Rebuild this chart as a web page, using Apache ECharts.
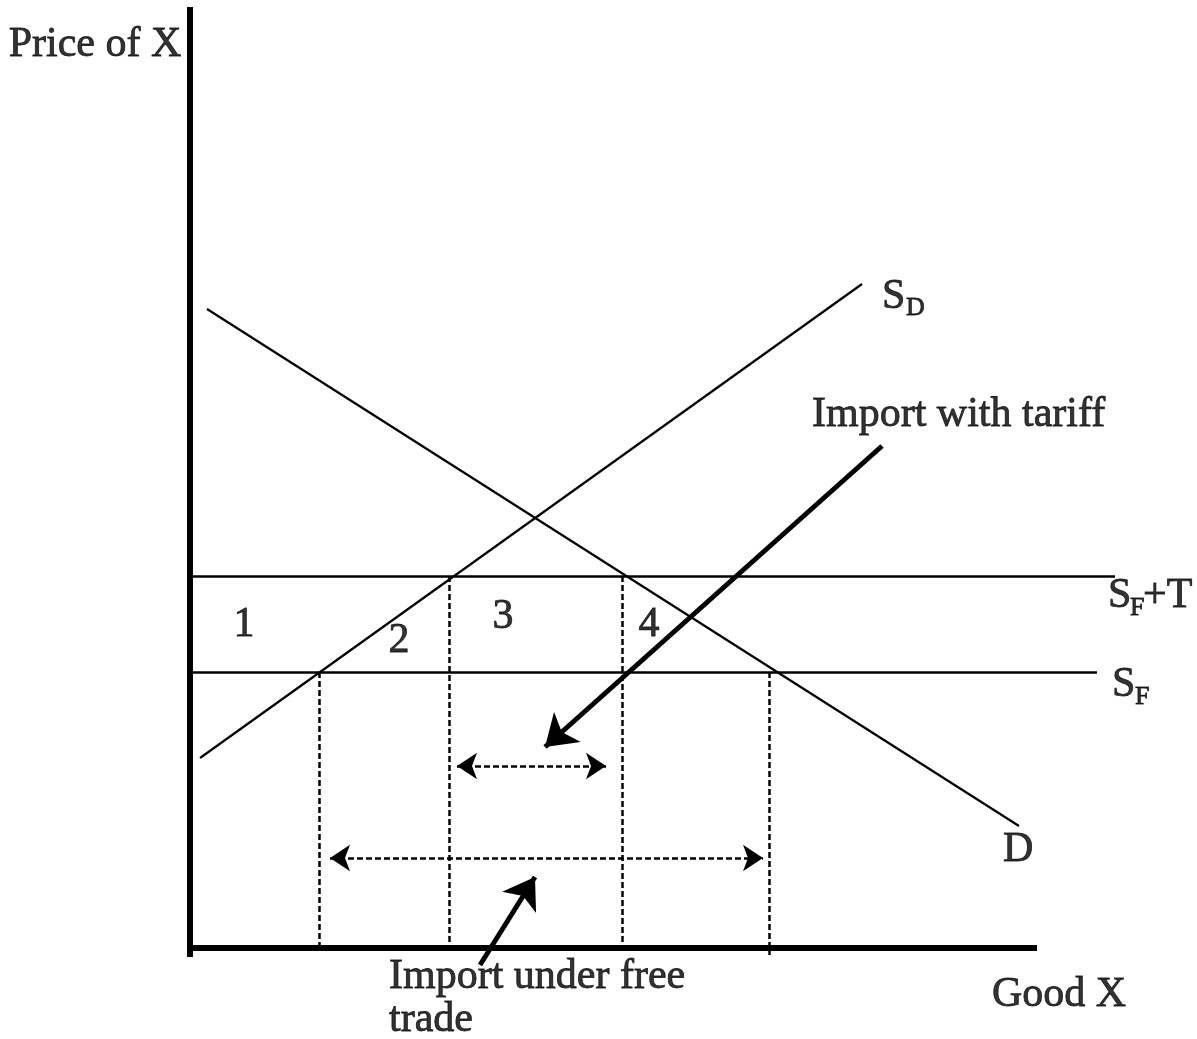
<!DOCTYPE html>
<html>
<head>
<meta charset="utf-8">
<style>
  html, body { margin: 0; padding: 0; background: #fff; }
  #chart { width: 1197px; height: 1039px; }
</style>
<script src="https://cdn.jsdelivr.net/npm/echarts@6/dist/echarts.min.js"></script>
</head>
<body>
<div id="chart"></div>
<script>
// ---- Data (quantity on x, price on y) ----
const domesticSupply = [[1.0, 18.9], [67.2, 66.3]];    // S_D
const demand = [[1.7, 63.8], [82.9, 12.1]];             // D
const priceFree = 27.5;                                  // S_F
const priceTariff = 37.1;                                // S_F + T
const freeLineEnd = 90.7;
const tariffLineEnd = 92.5;
const dashQuantities = [12.9, 25.9, 43.2, 57.9];
const dashTops = [27.5, 37.1, 37.1, 27.5];
const dashBottoms = [0, 0, -0.3, -0.8];
const tariffImport = [26.7, 41.6];   const tariffImportPrice = 18.1;
const freeImport = [14.0, 57.3];     const freeImportPrice = 8.9;
const arrowTariff = [[69.2, 50.1], [35.5, 20.0]];
const arrowFree = [[29.0, -1.8], [34.5, 7.0]];
const axisX = [[-0.3, -0.1], [84.7, -0.1]];
const axisY = [[0, -1.0], [0, 94.0]];
// main-size texts
const labels = [
  {name: 'Price of X', value: [-9.5, 90.2], align: 'center'},
  {name: 'S', value: [69.2, 65.0], align: 'left'},
  {name: 'Import with tariff', value: [62.2, 53.2], align: 'left'},
  {name: 'S', value: [91.8, 35.1], align: 'left'},
  {name: '+T', value: [95.3, 35.1], align: 'left'},
  {name: 'S', value: [92.2, 26.2], align: 'left'},
  {name: 'D', value: [81.3, 9.7], align: 'left'},
  {name: '1', value: [5.4, 32.2], align: 'center'},
  {name: '2', value: [20.9, 30.6], align: 'center'},
  {name: '3', value: [31.3, 33.0], align: 'center'},
  {name: '4', value: [45.9, 32.2], align: 'center'},
  {name: 'Import under free', value: [19.9, -3.0], align: 'left'},
  {name: 'trade', value: [19.9, -7.3], align: 'left'},
  {name: 'Good X', value: [80.2, -4.8], align: 'left'}
];
// subscripts
const subLabels = [
  {name: 'D', value: [71.6, 63.85]},
  {name: 'F', value: [94.0, 33.85]},
  {name: 'F', value: [94.5, 24.95]}
];

const FONT = 'Liberation Serif';
const FS = 42;
const SUB_FS = 26;
const chart = echarts.init(document.getElementById('chart'), null, {renderer: 'canvas'});

const dashData = dashQuantities.map((q, i) => ({coords: [[q, dashTops[i]], [q, dashBottoms[i]]]}));

function textSeries(items, size) {
  return {
    type: 'scatter', symbolSize: 0, silent: true, clip: false,
    data: items.map(l => ({
      name: l.name, value: l.value,
      label: {
        show: true, position: [0, 0], formatter: '{b}',
        align: l.align || 'left', verticalAlign: 'middle',
        fontFamily: FONT, fontSize: size, color: '#000',
        textBorderColor: '#000', textBorderWidth: 0.8
      }
    }))
  };
}

chart.setOption({
  animation: false,
  backgroundColor: '#fff',
  grid: {left: 0, right: 0, top: 0, bottom: 0},
  xAxis: {type: 'value', min: -19, max: 100.7, show: false},
  yAxis: {type: 'value', min: -9.2, max: 94.7, show: false},
  series: [
    { // axes
      type: 'lines', coordinateSystem: 'cartesian2d', silent: true,
      lineStyle: {color: '#000', width: 6, opacity: 1},
      data: [{coords: axisX}, {coords: axisY}]
    },
    { // supply & demand curves
      type: 'lines', coordinateSystem: 'cartesian2d', silent: true,
      lineStyle: {color: '#000', width: 2.2, opacity: 1},
      data: [{coords: domesticSupply}, {coords: demand}]
    },
    { // world price lines
      type: 'lines', coordinateSystem: 'cartesian2d', silent: true,
      lineStyle: {color: '#000', width: 2.5, opacity: 1},
      data: [
        {coords: [[0, priceTariff], [tariffLineEnd, priceTariff]]},
        {coords: [[0, priceFree], [freeLineEnd, priceFree]]}
      ]
    },
    { // dashed verticals
      type: 'lines', coordinateSystem: 'cartesian2d', silent: true,
      lineStyle: {color: '#000', width: 2.5, type: [6, 3], opacity: 1},
      data: dashData
    },
    { // dashed double arrows
      type: 'lines', coordinateSystem: 'cartesian2d', silent: true,
      symbol: ['arrow', 'arrow'], symbolSize: 20,
      lineStyle: {color: '#000', width: 2.5, type: [6, 3], opacity: 1},
      itemStyle: {color: '#000'},
      data: [
        {coords: [[tariffImport[0], tariffImportPrice], [tariffImport[1], tariffImportPrice]]},
        {coords: [[freeImport[0], freeImportPrice], [freeImport[1], freeImportPrice]]}
      ]
    },
    { // thick pointer arrows
      type: 'lines', coordinateSystem: 'cartesian2d', silent: true,
      symbol: ['none', 'arrow'], symbolSize: 30,
      lineStyle: {color: '#000', width: 5, opacity: 1},
      data: [{coords: arrowTariff}, {coords: arrowFree}]
    },
    textSeries(labels, FS),
    textSeries(subLabels, SUB_FS)
  ]
});
</script>
</body>
</html>
